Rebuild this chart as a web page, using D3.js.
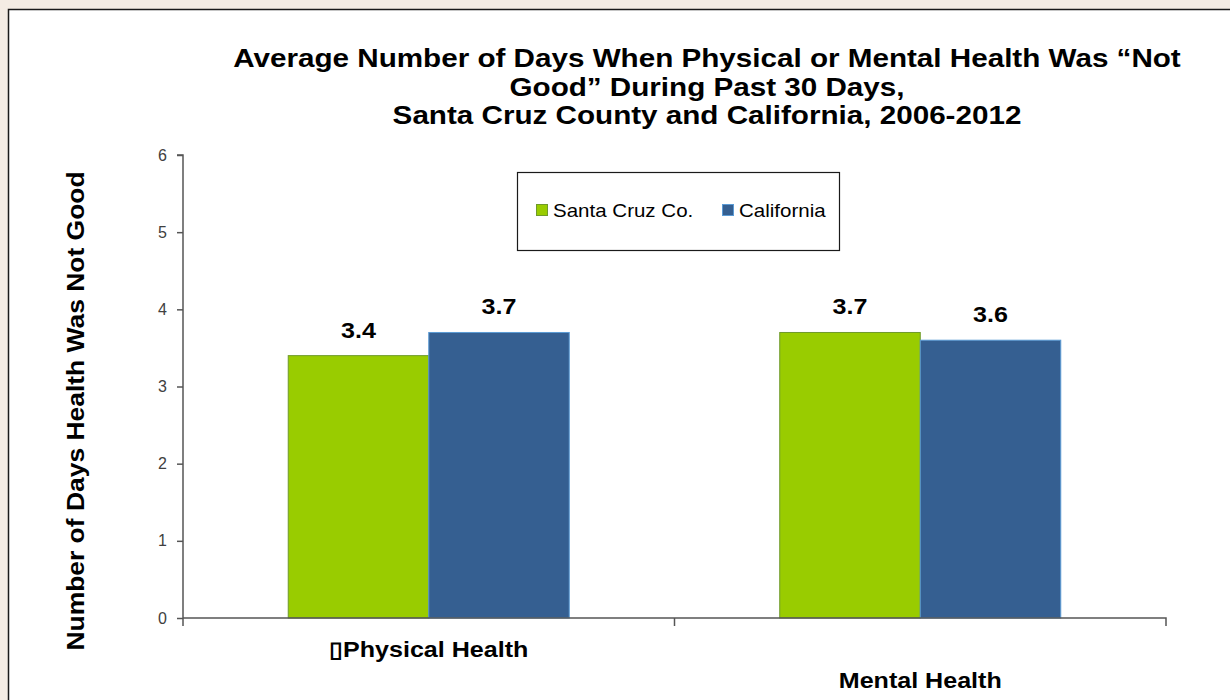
<!DOCTYPE html>
<html>
<head>
<meta charset="utf-8">
<script src="https://cdn.jsdelivr.net/npm/d3@7"></script>
<style>
  html, body { margin: 0; padding: 0; background: #f4ece4; }
  svg { display: block; }
  text { font-family: "Liberation Sans", Arial, sans-serif; }
</style>
</head>
<body>
<svg id="chart" width="1230" height="700"></svg>
<script>
const categories = ["\u25AFPhysical Health", "Mental Health"];
const seriesNames = ["Santa Cruz Co.", "California"];
const santaCruz = [3.4, 3.7];
const california = [3.7, 3.6];
const yTicks = [0, 1, 2, 3, 4, 5, 6];
const titleLines = [
  "Average Number of Days When Physical or Mental Health Was \u201CNot",
  "Good\u201D During Past 30 Days,",
  "Santa Cruz County and California, 2006-2012"
];
const yTitle = "Number of Days Health Was Not Good";
const colors = ["#99cc00", "#355f91"];
const strokes = ["#6f9a2a", "#5b9bd5"];

(function () {
const SX = 1.14; // horizontal text stretch seen in the reference
const svg = d3.select("#chart");

svg.append("rect").attr("x", 8.5).attr("y", 9.5).attr("width", 1240).attr("height", 720)
  .attr("fill", "#ffffff").attr("stroke", "#1a1a1a").attr("stroke-width", 1.5);

const pLeft = 183, pRight = 1166, pTop = 155, pBottom = 618;

const x0 = d3.scaleBand().domain(categories).range([pLeft, pRight]).paddingInner(0).paddingOuter(0);
const x1 = d3.scaleBand().domain(seriesNames).range([0, x0.bandwidth()]).paddingInner(0).paddingOuter(0.749);
const y = d3.scaleLinear().domain([0, 6]).range([pBottom, pTop]);

const data = categories.map((c, i) => ({
  cat: c,
  values: [
    { s: seriesNames[0], v: santaCruz[i], k: 0 },
    { s: seriesNames[1], v: california[i], k: 1 }
  ]
}));

// Title
svg.append("g").selectAll("text").data(titleLines).join("text")
  .attr("transform", (d, i) => `translate(707,${67 + i * 28.5}) scale(${SX},1)`)
  .attr("text-anchor", "middle")
  .attr("font-size", 26).attr("font-weight", "bold").attr("fill", "#000")
  .text(d => d);

// Y axis
const yAxis = d3.axisLeft(y).tickValues(yTicks).tickSize(6).tickPadding(10).tickFormat(d3.format("d"));
const gy = svg.append("g").attr("transform", `translate(${pLeft},0)`).call(yAxis);
gy.select(".domain").attr("stroke", "#555").attr("stroke-width", 1.5)
  .attr("d", `M-6,${pTop}H0V${pBottom + 8}`);
gy.selectAll(".tick line").attr("stroke", "#555").attr("stroke-width", 1.5);
gy.selectAll(".tick text").attr("font-size", 16).attr("fill", "#404040")
  .attr("font-family", "Liberation Sans, Arial, sans-serif");

// Bars
const groups = svg.append("g").selectAll("g").data(data).join("g")
  .attr("transform", d => `translate(${x0(d.cat)},0)`);
groups.selectAll("rect").data(d => d.values).join("rect")
  .attr("x", d => x1(d.s))
  .attr("y", d => y(d.v))
  .attr("width", x1.bandwidth())
  .attr("height", d => y(0) - y(d.v))
  .attr("fill", d => colors[d.k])
  .attr("stroke", d => strokes[d.k])
  .attr("stroke-width", 1);
groups.selectAll("text.val").data(d => d.values).join("text")
  .attr("class", "val")
  .attr("transform", d => `translate(${x1(d.s) + x1.bandwidth() / 2},${y(d.v) - 18}) scale(${SX},1)`)
  .attr("text-anchor", "middle")
  .attr("font-size", 22).attr("font-weight", "bold").attr("fill", "#000")
  .text(d => d3.format(".1f")(d.v));

// X axis
const xAxis = d3.axisBottom(x0).tickSize(0).tickFormat("");
const gx = svg.append("g").attr("transform", `translate(0,${pBottom})`).call(xAxis);
gx.select(".domain").attr("stroke", "#555").attr("stroke-width", 1.5)
  .attr("d", `M${pLeft},0H${pRight}V8`);
gx.selectAll("line.bound").data(categories.slice(1)).join("line").attr("class", "bound")
  .attr("x1", d => x0(d)).attr("x2", d => x0(d)).attr("y1", 0).attr("y2", 8)
  .attr("stroke", "#555").attr("stroke-width", 1.5);
svg.append("g").selectAll("text").data(categories).join("text")
  .attr("transform", (d, i) => `translate(${x0(d) + x0.bandwidth() / 2},${i % 2 === 0 ? 657 : 688}) scale(${SX},1)`)
  .attr("text-anchor", "middle")
  .attr("font-size", 22).attr("font-weight", "bold").attr("fill", "#000")
  .text(d => d);

// Y title
svg.append("text")
  .attr("transform", `translate(84,411) rotate(-90) scale(1.15,1)`)
  .attr("text-anchor", "middle")
  .attr("font-size", 23).attr("font-weight", "bold").attr("fill", "#000")
  .text(yTitle);

// Legend
const lg = svg.append("g");
lg.append("rect").attr("x", 517.5).attr("y", 172.5).attr("width", 322).attr("height", 78)
  .attr("fill", "#fff").attr("stroke", "#1a1a1a").attr("stroke-width", 1.2);
const legendPos = [536, 722];
const li = lg.selectAll("g.item").data(seriesNames).join("g").attr("class", "item")
  .attr("transform", (d, i) => `translate(${legendPos[i]},210)`);
li.append("rect").attr("x", 0.5).attr("y", -5.5).attr("width", 11).attr("height", 11)
  .attr("fill", (d, i) => colors[i]).attr("stroke", (d, i) => strokes[i]).attr("stroke-width", 1);
li.append("text").attr("transform", `translate(17,6.5) scale(${SX},1)`)
  .attr("font-size", 18).attr("fill", "#000").text(d => d);
})();
</script>
</body>
</html>
